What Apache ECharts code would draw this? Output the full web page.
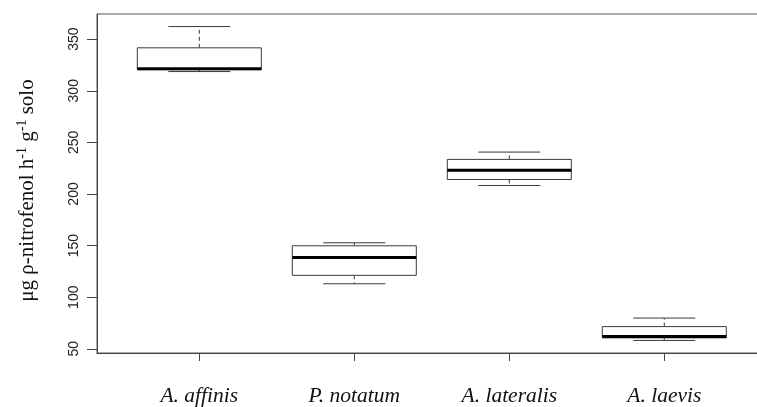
<!DOCTYPE html>
<html>
<head>
<meta charset="utf-8">
<script src="https://cdn.jsdelivr.net/npm/echarts@6/dist/echarts.min.js"></script>
<style>html,body{margin:0;padding:0;background:#fff;overflow:hidden;width:757px;height:407px;}#c{width:772px;height:407px;}</style>
</head>
<body>
<div id="c"></div>
<script>
var categories = ['A. affinis', 'P. notatum', 'A. lateralis', 'A. laevis'];
var whiskerLow = [318.6, 113.0, 208.2, 58.1];
var q1 = [320.4, 121.2, 214.0, 60.6];
var median = [321.3, 138.5, 222.9, 61.9];
var q3 = [341.6, 149.8, 233.5, 71.5];
var whiskerHigh = [362.2, 152.7, 240.6, 79.8];
var yTicks = [50, 100, 150, 200, 250, 300, 350];
var xTicks = [1, 2, 3, 4];

var boxData = categories.map(function (c, i) {
  return [i + 1, whiskerLow[i], q1[i], median[i], q3[i], whiskerHigh[i]];
});

var chart = echarts.init(document.getElementById('c'), null, {renderer: 'canvas'});
var lineCol = '#3a3a3a';

function renderItem(params, api) {
  var x = api.value(0);
  var lo = api.value(1), a = api.value(2), m = api.value(3), b = api.value(4), hi = api.value(5);
  var halfBox = 0.4, halfStaple = 0.2;
  function P(xx, yy) { return api.coord([xx, yy]); }
  var ln = function (p1, p2, style) {
    return {type: 'line', shape: {x1: p1[0], y1: p1[1], x2: p2[0], y2: p2[1]}, style: style};
  };
  var thin = {stroke: lineCol, lineWidth: 1};
  var dashed = {stroke: lineCol, lineWidth: 1, lineDash: [4, 3]};
  var tl = P(x - halfBox, b), br = P(x + halfBox, a);
  return {
    type: 'group',
    children: [
      ln(P(x, b), P(x, hi), dashed),
      ln(P(x, a), P(x, lo), dashed),
      ln(P(x - halfStaple, hi), P(x + halfStaple, hi), thin),
      ln(P(x - halfStaple, lo), P(x + halfStaple, lo), thin),
      {type: 'rect', shape: {x: tl[0], y: tl[1], width: br[0] - tl[0], height: br[1] - tl[1]},
        style: {fill: '#fff', stroke: lineCol, lineWidth: 1}},
      ln(P(x - halfBox, m), P(x + halfBox, m), {stroke: '#000', lineWidth: 3})
    ]
  };
}

chart.setOption({
  animation: false,
  backgroundColor: '#fff',
  grid: {left: 97, top: 14, width: 669.6, height: 341, show: true, borderColor: '#555', borderWidth: 1, backgroundColor: 'transparent'},
  xAxis: {
    type: 'value', min: 0.34, max: 4.66,
    splitLine: {show: false},
    axisLine: {show: true, lineStyle: {color: '#444', width: 1}},
    axisTick: {show: true, customValues: xTicks, length: 8, lineStyle: {color: '#444'}},
    axisLabel: {
      customValues: xTicks, margin: 32,
      formatter: function (v) { return categories[Math.round(v) - 1]; },
      fontFamily: 'Liberation Serif', fontStyle: 'italic', fontSize: 21.5, color: '#111'
    }
  },
  yAxis: {
    type: 'value', min: 45.94, max: 374.36,
    splitLine: {show: false},
    axisLine: {show: true, lineStyle: {color: '#444', width: 1}},
    axisTick: {show: true, customValues: yTicks, length: 10, lineStyle: {color: '#444'}},
    axisLabel: {
      customValues: yTicks, rotate: 90, margin: 16,
      fontFamily: 'Liberation Sans', fontSize: 14, color: '#222'
    },
    name: '{a|μg ρ-nitrofenol h}{s|-1}{a| g}{s|-1}{a| solo}',
    nameLocation: 'middle', nameRotate: 90, nameGap: 57,
    nameTextStyle: {
      fontFamily: 'Liberation Serif', fontSize: 21, color: '#111',
      padding: [0, 14, 0, 0],
      rich: {
        a: {fontFamily: 'Liberation Serif', fontSize: 21, color: '#111', lineHeight: 25},
        s: {fontFamily: 'Liberation Serif', fontSize: 14, color: '#111', lineHeight: 14, verticalAlign: 'top'}
      }
    }
  },
  series: [{
    type: 'custom',
    renderItem: renderItem,
    data: boxData,
    encode: {x: 0, y: [1, 2, 3, 4, 5]},
    clip: false
  }]
});
</script>
</body>
</html>
